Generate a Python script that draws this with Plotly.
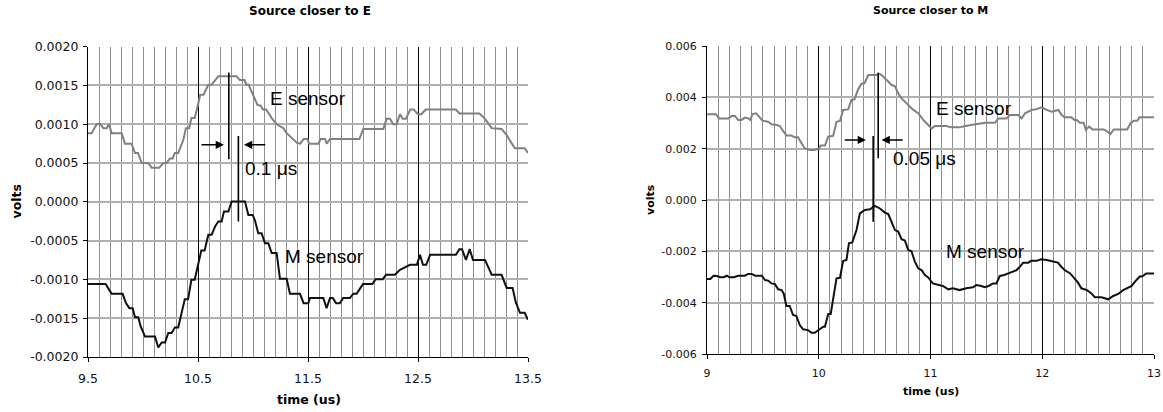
import plotly.graph_objects as go

# ---------------- data: left chart (Source closer to E) ----------------
e_left_t = [9.5, 9.533, 9.58, 9.61, 9.64, 9.67, 9.69, 9.715, 9.806, 9.836, 9.897, 9.927, 9.955, 9.988,
            10.048, 10.079, 10.148, 10.185, 10.215, 10.245, 10.27, 10.29, 10.32, 10.367, 10.39, 10.42,
            10.44, 10.47, 10.49, 10.52, 10.55, 10.594, 10.624, 10.685, 10.85, 10.88, 10.924, 10.94,
            10.96, 10.994, 11.04, 11.07, 11.09, 11.12, 11.17, 11.215, 11.276, 11.306, 11.35, 11.4,
            11.43, 11.46, 11.495, 11.51, 11.594, 11.615, 11.655, 11.67, 11.7, 11.967, 12.003, 12.185,
            12.215, 12.245, 12.276, 12.306, 12.336, 12.36, 12.39, 12.43, 12.46, 12.5, 12.53, 12.57,
            12.845, 12.876, 13.058, 13.109, 13.17, 13.26, 13.306, 13.38, 13.47, 13.5]
e_left_v = [0.000885, 0.000885, 0.001005, 0.001005, 0.00095, 0.00095, 0.001005, 0.000885, 0.000885,
            0.00075, 0.00075, 0.00063, 0.00063, 0.0005, 0.0005, 0.00044, 0.00044, 0.0005, 0.0005,
            0.00056, 0.00056, 0.00063, 0.00063, 0.0008, 0.00095, 0.00095, 0.00108, 0.00108, 0.00119,
            0.00138, 0.00138, 0.00151, 0.00151, 0.00162, 0.00162, 0.00157, 0.00157, 0.00151, 0.00151,
            0.0014, 0.00125, 0.00124, 0.00119, 0.00119, 0.00108, 0.001, 0.00095, 0.000885, 0.00082,
            0.00076, 0.00075, 0.00081, 0.00081, 0.00075, 0.00075, 0.00081, 0.00081, 0.00075, 0.00081,
            0.00081, 0.00094, 0.00094, 0.00107, 0.00107, 0.001, 0.001, 0.00113, 0.00107, 0.00107,
            0.00119, 0.00119, 0.00113, 0.00113, 0.00119, 0.00119, 0.00114, 0.00114, 0.00107, 0.00095,
            0.00094, 0.00086, 0.00069, 0.00069, 0.00063]

m_left_t = [9.5, 9.66, 9.715, 9.815, 9.845, 9.876, 9.906, 9.927, 9.957, 9.979, 10.018, 10.109, 10.139,
            10.17, 10.2, 10.23, 10.26, 10.29, 10.32, 10.35, 10.38, 10.41, 10.44, 10.47, 10.5, 10.53,
            10.56, 10.594, 10.624, 10.655, 10.685, 10.715, 10.736, 10.776, 10.806, 10.927, 10.958,
            10.997, 11.018, 11.048, 11.078, 11.109, 11.139, 11.17, 11.215, 11.245, 11.306, 11.336,
            11.427, 11.46, 11.503, 11.518, 11.639, 11.669, 11.7, 11.725, 11.755, 11.79, 11.82, 11.88,
            11.912, 11.942, 12.0, 12.085, 12.115, 12.18, 12.21, 12.29, 12.336, 12.427, 12.49, 12.518,
            12.545, 12.575, 12.61, 12.845, 12.876, 12.9, 12.936, 12.97, 13.0, 13.109, 13.17, 13.26,
            13.306, 13.36, 13.39, 13.427, 13.47, 13.5]
m_left_v = [-0.00106, -0.00106, -0.001186, -0.001186, -0.001306, -0.00137, -0.00137, -0.001486,
            -0.001486, -0.001607, -0.001735, -0.001735, -0.001877, -0.001813, -0.001813, -0.00169,
            -0.00169, -0.00162, -0.00162, -0.001456, -0.001254, -0.001254, -0.001005, -0.001005,
            -0.00081, -0.000627, -0.000627, -0.000425, -0.000425, -0.000318, -0.000253, -0.000253,
            -0.000125, -0.000125, 0.000004, 0.000004, -0.000168, -0.000168, -0.00024, -0.000404,
            -0.000404, -0.000533, -0.000533, -0.00066, -0.00066, -0.00099, -0.00099, -0.001186,
            -0.001186, -0.001306, -0.001306, -0.00124, -0.00124, -0.00137, -0.00124, -0.00124,
            -0.001306, -0.001306, -0.00124, -0.00124, -0.001186, -0.001186, -0.00106, -0.00106,
            -0.000997, -0.000997, -0.00094, -0.00094, -0.000876, -0.000812, -0.000812, -0.000683,
            -0.000812, -0.000812, -0.000683, -0.000683, -0.00061, -0.00061, -0.000748, -0.00061,
            -0.000748, -0.000748, -0.00094, -0.00094, -0.00111, -0.00111, -0.0013, -0.00143,
            -0.00143, -0.00152]

# ---------------- data: right chart (Source closer to M) ----------------
e_right_t = [9.0, 9.08, 9.11, 9.19, 9.22, 9.25, 9.279, 9.31, 9.338, 9.37, 9.389, 9.407, 9.44, 9.497,
             9.547, 9.577, 9.622, 9.652, 9.68, 9.71, 9.755, 9.786, 9.815, 9.845, 9.875, 9.92, 9.965,
             10.003, 10.016, 10.055, 10.085, 10.129, 10.159, 10.19, 10.218, 10.263, 10.293, 10.32,
             10.35, 10.38, 10.41, 10.443, 10.518, 10.533, 10.562, 10.607, 10.652, 10.68, 10.711,
             10.741, 10.771, 10.816, 10.846, 10.89, 10.935, 10.98, 11.01, 11.04, 11.14, 11.188, 11.26,
             11.31, 11.4, 11.488, 11.577, 11.607, 11.68, 11.71, 11.786, 11.816, 11.846, 11.905, 11.95,
             11.994, 12.04, 12.084, 12.144, 12.174, 12.2, 12.26, 12.29, 12.31, 12.336, 12.37, 12.39,
             12.42, 12.45, 12.55, 12.585, 12.61, 12.64, 12.76, 12.79, 12.82, 12.85, 12.87, 13.0]
e_right_mv = [3.34, 3.34, 3.18, 3.18, 3.27, 3.27, 3.12, 3.12, 3.21, 3.18, 3.12, 3.35, 3.38, 3.09,
              3.05, 2.95, 2.92, 2.88, 2.70, 2.51, 2.51, 2.44, 2.44, 2.21, 2.01, 1.95, 1.95, 2.01,
              2.12, 2.12, 2.47, 2.50, 3.05, 3.08, 3.51, 3.53, 3.90, 3.92, 4.29, 4.52, 4.55, 4.87,
              4.87, 4.94, 4.87, 4.68, 4.48, 4.44, 4.16, 3.96, 3.83, 3.64, 3.51, 3.38, 3.12, 2.92,
              2.79, 2.88, 2.88, 2.83, 2.83, 2.88, 2.96, 3.01, 3.01, 3.18, 3.18, 3.31, 3.31, 3.18,
              3.38, 3.51, 3.54, 3.61, 3.51, 3.44, 3.51, 3.31, 3.22, 3.22, 3.12, 3.12, 3.01, 3.01,
              2.73, 2.86, 2.75, 2.75, 2.66, 2.57, 2.75, 2.75, 2.99, 3.09, 3.09, 3.22, 3.22]

m_right_t = [9.0, 9.03, 9.058, 9.09, 9.118, 9.148, 9.178, 9.2, 9.24, 9.279, 9.338, 9.368, 9.4, 9.43,
             9.49, 9.52, 9.547, 9.577, 9.607, 9.637, 9.667, 9.688, 9.71, 9.74, 9.77, 9.8, 9.83, 9.86,
             9.904, 9.934, 9.964, 10.003, 10.04, 10.055, 10.085, 10.107, 10.129, 10.159, 10.19,
             10.218, 10.248, 10.27, 10.3, 10.338, 10.368, 10.413, 10.458, 10.503, 10.547, 10.592,
             10.622, 10.652, 10.682, 10.711, 10.741, 10.771, 10.801, 10.83, 10.86, 10.89, 10.92,
             10.95, 10.98, 11.02, 11.07, 11.11, 11.16, 11.2, 11.26, 11.32, 11.38, 11.41, 11.455,
             11.485, 11.52, 11.56, 11.59, 11.62, 11.66, 11.72, 11.77, 11.8, 11.83, 11.875, 11.9,
             11.95, 11.99, 12.04, 12.07, 12.11, 12.14, 12.17, 12.2, 12.25, 12.28, 12.32, 12.35, 12.4,
             12.44, 12.47, 12.53, 12.59, 12.635, 12.68, 12.724, 12.755, 12.8, 12.83, 12.87, 12.9,
             12.93, 13.0]
m_right_mv = [-3.08, -3.08, -2.95, -2.96, -3.01, -3.01, -2.95, -3.01, -3.01, -2.95, -2.95, -2.88,
              -2.88, -2.95, -2.95, -3.12, -3.14, -3.25, -3.27, -3.48, -3.51, -3.66, -4.13, -4.13,
              -4.48, -4.52, -4.87, -5.04, -5.07, -5.17, -5.17, -5.04, -4.94, -4.94, -4.44, -4.44,
              -3.90, -3.05, -3.03, -2.38, -2.34, -1.69, -1.65, -1.17, -0.52, -0.39, -0.36, -0.23,
              -0.33, -0.49, -0.55, -0.84, -1.17, -1.23, -1.53, -1.58, -1.95, -2.00, -2.40, -2.66,
              -2.73, -2.92, -3.02, -3.25, -3.31, -3.35, -3.48, -3.44, -3.51, -3.44, -3.40, -3.31,
              -3.35, -3.40, -3.35, -3.25, -3.25, -2.96, -2.92, -2.83, -2.73, -2.60, -2.44, -2.44,
              -2.37, -2.37, -2.31, -2.34, -2.37, -2.40, -2.44, -2.60, -2.73, -2.86, -3.02, -3.22,
              -3.44, -3.51, -3.64, -3.79, -3.79, -3.87, -3.74, -3.66, -3.51, -3.44, -3.35, -3.18,
              -2.99, -2.96, -2.86, -2.86]
e_right_v = [v / 1000 for v in e_right_mv]
m_right_v = [v / 1000 for v in m_right_mv]

# ---------------- tick labels ----------------
left_xticks = [9.5, 10.5, 11.5, 12.5, 13.5]
left_xtext = ["9.5", "10.5", "11.5", "12.5", "13.5"]
left_yticks = [0.002, 0.0015, 0.001, 0.0005, 0.0, -0.0005, -0.001, -0.0015, -0.002]
left_ytext = ["0.0020", "0.0015", "0.0010", "0.0005", "0.0000", "-0.0005", "-0.0010", "-0.0015", "-0.0020"]
right_xticks = [9, 10, 11, 12, 13]
right_xtext = ["9", "10", "11", "12", "13"]
right_yticks = [0.006, 0.004, 0.002, 0.0, -0.002, -0.004, -0.006]
right_ytext = ["0.006", "0.004", "0.002", "0.000", "-0.002", "-0.004", "-0.006"]

titles = ["Source closer to E", "Source closer to M"]
x_title = "time (us)"
y_title = "volts"

# annotation markers (delay indicators)
left_marks = dict(l1=(10.78, 0.001666, 0.00055), l2=(10.867, 0.00085, -0.000254),
                  arr_y=0.000735, a1=(10.518, 10.736), a2=(11.125, 10.918))
right_marks = dict(l1=(10.532, 0.00494, 0.001626), l2=(10.487, 0.002495, -0.000846),
                   arr_y=0.00234, a1=(10.219, 10.422), a2=(10.765, 10.562))

W, H = 1163, 412
E_COLOR = "#808080"
M_COLOR = "#111111"
GRID_V = "#8f8f8f"
L_DOM_X = [88 / W, 528 / W]
L_DOM_Y = [1 - 357 / H, 1 - 46.7 / H]
R_DOM_X = [707 / W, 1154 / W]
R_DOM_Y = [1 - 354 / H, 1 - 46 / H]
L_RANGE_X = [left_xticks[0], left_xticks[-1]]
R_RANGE_X = [right_xticks[0], right_xticks[-1]]

fig = go.Figure()
fig.add_trace(go.Scatter(x=e_left_t, y=e_left_v, mode="lines", line=dict(color=E_COLOR, width=2),
                         xaxis="x", yaxis="y", showlegend=False))
fig.add_trace(go.Scatter(x=m_left_t, y=m_left_v, mode="lines", line=dict(color=M_COLOR, width=2),
                         xaxis="x", yaxis="y", showlegend=False))
fig.add_trace(go.Scatter(x=e_right_t, y=e_right_v, mode="lines", line=dict(color=E_COLOR, width=2),
                         xaxis="x2", yaxis="y2", showlegend=False))
fig.add_trace(go.Scatter(x=m_right_t, y=m_right_v, mode="lines", line=dict(color=M_COLOR, width=2),
                         xaxis="x2", yaxis="y2", showlegend=False))


def xaxis_cfg(dom, rng, ticks, text, fsize, standoff):
    return dict(domain=dom, range=rng, tickmode="array", tickvals=ticks, ticktext=text,
                showgrid=True, gridcolor=GRID_V, gridwidth=1,
                minor=dict(tickmode="linear", tick0=rng[0], dtick=0.1, showgrid=True,
                           gridcolor=GRID_V, gridwidth=1, ticks=""),
                showline=True, linecolor="#000000", linewidth=1.2,
                ticks="outside", ticklen=4, tickcolor="#000000",
                tickfont=dict(family="DejaVu Sans", size=fsize, color="#111111"),
                ticklabelstandoff=standoff, zeroline=False, fixedrange=True, automargin=False)


def yaxis_cfg(dom, rng, ticks, text, fsize, standoff):
    return dict(domain=dom, range=rng, tickmode="array", tickvals=ticks, ticktext=text,
                showgrid=True, gridcolor="#b0b0b0", gridwidth=1.6,
                showline=True, linecolor="#000000", linewidth=1.2,
                ticks="outside", ticklen=4, tickcolor="#000000",
                tickfont=dict(family="DejaVu Sans", size=fsize, color="#111111"),
                ticklabelstandoff=standoff, zeroline=False, fixedrange=True, automargin=False)


def major_grid_axis(dom, rng, ticks, overlay, anchor):
    # dark vertical gridlines at the interior labelled ticks only
    return dict(domain=dom, range=rng, overlaying=overlay, anchor=anchor, tickmode="array",
                tickvals=ticks[1:-1], showgrid=True, gridcolor="#000000", gridwidth=1,
                showticklabels=False, ticks="", showline=False, zeroline=False,
                fixedrange=True, automargin=False)


fig.update_layout(
    width=W, height=H,
    margin=dict(l=0, r=0, t=0, b=0, autoexpand=False),
    paper_bgcolor="white", plot_bgcolor="white",
    xaxis=xaxis_cfg(L_DOM_X, L_RANGE_X, left_xticks, left_xtext, 12.5, 6),
    yaxis=yaxis_cfg(L_DOM_Y, [-0.002, 0.002], left_yticks, left_ytext, 12.5, 2),
    xaxis2=dict(anchor="y2", **xaxis_cfg(R_DOM_X, R_RANGE_X, right_xticks, right_xtext, 11, 5)),
    yaxis2=dict(anchor="x2", **yaxis_cfg(R_DOM_Y, [-0.006, 0.006], right_yticks, right_ytext, 11, 3)),
    xaxis3=major_grid_axis(L_DOM_X, L_RANGE_X, left_xticks, "x", "y"),
    xaxis4=major_grid_axis(R_DOM_X, R_RANGE_X, right_xticks, "x2", "y2"),
)

# invisible helper traces so the overlay grid axes are rendered
fig.add_trace(go.Scatter(x=[left_xticks[0]], y=[left_yticks[0]], mode="markers", marker=dict(opacity=0),
                         xaxis="x3", yaxis="y", showlegend=False, hoverinfo="skip"))
fig.add_trace(go.Scatter(x=[right_xticks[0]], y=[right_yticks[0]], mode="markers", marker=dict(opacity=0),
                         xaxis="x4", yaxis="y2", showlegend=False, hoverinfo="skip"))

shapes = []
annotations = []
for xa, ya, mk in (("x", "y", left_marks), ("x2", "y2", right_marks)):
    for key in ("l1", "l2"):
        xv, y0, y1 = mk[key]
        shapes.append(dict(type="line", xref=xa, yref=ya, x0=xv, x1=xv, y0=y0, y1=y1,
                           line=dict(color="#000000", width=1.6)))
    for key in ("a1", "a2"):
        tail, head = mk[key]
        annotations.append(dict(xref=xa, yref=ya, axref=xa, ayref=ya, x=head, y=mk["arr_y"],
                                ax=tail, ay=mk["arr_y"], text="", showarrow=True,
                                arrowhead=2, arrowsize=1.1, arrowwidth=1.5, arrowcolor="#000000"))

label_font = dict(family="Liberation Sans, Arial", size=19, color="#000000")
text_labels = [
    ("x", "y", 11.136, 0.001336, "E sensor"),
    ("x", "y", 11.275, -0.000705, "M sensor"),
    ("x", "y", 10.905, 0.000425, "0.1 μs"),
    ("x2", "y2", 11.035, 0.003575, "E sensor"),
    ("x2", "y2", 11.125, -0.002016, "M sensor"),
    ("x2", "y2", 10.645, 0.001626, "0.05 μs"),
]
for xa, ya, xv, yv, txt in text_labels:
    annotations.append(dict(xref=xa, yref=ya, x=xv, y=yv, text=txt, showarrow=False,
                            xanchor="left", yanchor="middle", font=label_font))

# titles and axis titles
annotations += [
    dict(xref="paper", yref="paper", x=310 / W, y=1 - 11 / H, text="<b>" + titles[0] + "</b>",
         showarrow=False, xanchor="center", yanchor="middle",
         font=dict(family="DejaVu Sans", size=12, color="#000000")),
    dict(xref="paper", yref="paper", x=930 / W, y=1 - 11 / H, text="<b>" + titles[1] + "</b>",
         showarrow=False, xanchor="center", yanchor="middle",
         font=dict(family="DejaVu Sans", size=11, color="#000000")),
    dict(xref="paper", yref="paper", x=308.5 / W, y=1 - 399 / H, text="<b>" + x_title + "</b>",
         showarrow=False, xanchor="center", yanchor="middle",
         font=dict(family="DejaVu Sans", size=12.5, color="#000000")),
    dict(xref="paper", yref="paper", x=930.5 / W, y=1 - 391 / H, text="<b>" + x_title + "</b>",
         showarrow=False, xanchor="center", yanchor="middle",
         font=dict(family="DejaVu Sans", size=11, color="#000000")),
    dict(xref="paper", yref="paper", x=15.5 / W, y=1 - 202 / H, text="<b>" + y_title + "</b>",
         showarrow=False, xanchor="center", yanchor="middle", textangle=-90,
         font=dict(family="DejaVu Sans", size=12.5, color="#000000")),
    dict(xref="paper", yref="paper", x=650 / W, y=1 - 200 / H, text="<b>" + y_title + "</b>",
         showarrow=False, xanchor="center", yanchor="middle", textangle=-90,
         font=dict(family="DejaVu Sans", size=11, color="#000000")),
]

fig.update_layout(shapes=shapes, annotations=annotations)
fig.write_html("out.html", config={"displayModeBar": False},
               post_script="document.body.style.margin='0';document.body.style.overflow='hidden';")
